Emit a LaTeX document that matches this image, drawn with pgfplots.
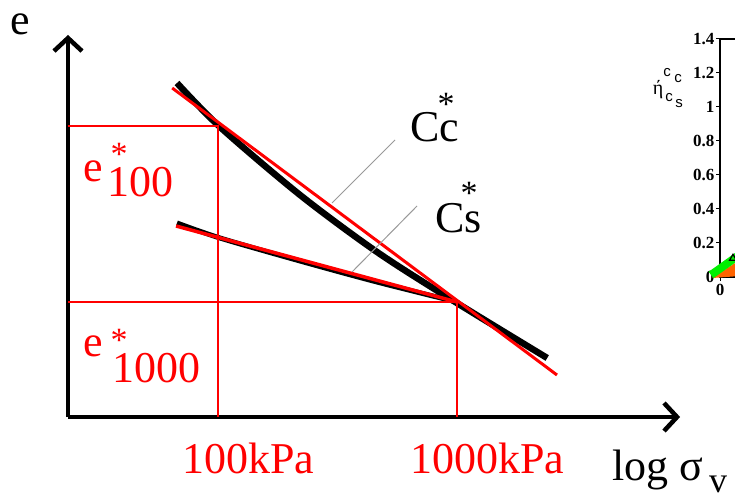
\documentclass[border=0pt]{standalone}
\usepackage{fontspec}
\setmainfont{Liberation Serif}
\newfontfamily\sansf{Liberation Sans}
\usepackage{pgfplots}
\pgfplotsset{compat=1.18}
\usetikzlibrary{arrows.meta}
\definecolor{rd}{RGB}{255,0,0}
\definecolor{gr}{RGB}{0,240,0}
\definecolor{org}{RGB}{255,100,0}
\newcommand{\bigf}{\fontsize{44}{48}\selectfont}
\newcommand{\starf}{\fontsize{34}{36}\selectfont}
\begin{document}
\begin{tikzpicture}[x=1pt,y=1pt]
\useasboundingbox (0,0) rectangle (735,495);
\clip (0,0) rectangle (735,495);
% ---------------- main schematic ----------------
\begin{axis}[
  at={(68pt,78pt)}, anchor=south west,
  x=239pt, y=100pt,
  xmin=1.372, xmax=3.933, ymin=0, ymax=3.82,
  axis lines=left,
  axis line style={line width=4.5pt, black, -{Straight Barb[length=13pt,width=28pt]}},
  xtick={2,3}, xticklabels={100kPa,1000kPa},
  ytick=\empty,
  major tick length=0pt,
  xticklabel style={anchor=base, text=rd, font=\bigf, inner sep=0pt, xshift=30pt, yshift=-56pt},
  clip=false,
]
% black measured curves
\addplot[black, line width=6.5pt, smooth, tension=0.5] coordinates {
 (1.828,3.34) (2.008,2.90) (2.343,2.22) (2.665,1.65) (2.979,1.17) (3.377,0.59)};
\addplot[black, line width=5pt, smooth, tension=0.5] coordinates {
 (1.828,1.94) (2.008,1.79) (2.343,1.56) (2.665,1.35) (3.0,1.15)};
% red construction lines
\addplot[rd, line width=2pt] coordinates {(1.372,2.91) (2.0,2.91) (2.0,0)};
\addplot[rd, line width=2pt] coordinates {(1.372,1.15) (3.0,1.15) (3.0,0)};
\addplot[rd, line width=3pt] coordinates {(1.808,3.29) (3.418,0.42)};
\addplot[rd, line width=3.5pt] coordinates {(1.824,1.91) (3.0,1.15)};
\end{axis}
% annotations (pixel coordinates: x, 495-y)
\node[anchor=base west, inner sep=0pt, font=\bigf] at (10,460) {e};
\node[anchor=base west, inner sep=0pt, font=\bigf, text=rd] at (83,313) {e};
\node[inner sep=0pt, font=\starf, text=rd] at (119,341) {*};
\node[anchor=base west, inner sep=0pt, font=\bigf, text=rd] at (107,298) {100};
\node[anchor=base west, inner sep=0pt, font=\bigf, text=rd] at (83,138) {e};
\node[inner sep=0pt, font=\starf, text=rd] at (119,155) {*};
\node[anchor=base west, inner sep=0pt, font=\bigf, text=rd] at (112,113) {1000};
\node[anchor=base west, inner sep=0pt, font=\bigf] at (410,353) {Cc};
\node[inner sep=0pt, font=\starf] at (446,391) {*};
\node[anchor=base west, inner sep=0pt, font=\bigf] at (435,262) {Cs};
\node[inner sep=0pt, font=\starf] at (469,302) {*};
\draw[gray!80, line width=1pt] (395,355) -- (332,292);
\draw[gray!80, line width=1pt] (417,289) -- (352,223);
\node[anchor=base west, inner sep=0pt, font=\bigf] at (612,15) {log σ};
\node[anchor=base west, inner sep=0pt, font=\fontsize{36}{40}\selectfont] at (709,3) {v};
% ---------------- clipped second chart ----------------
\begin{axis}[
  at={(720pt,218pt)}, anchor=south west,
  x=100pt, y=170pt,
  xmin=0, xmax=4, ymin=0, ymax=1.4,
  axis line style={line width=1.5pt, black},
  ytick={0,0.2,0.4,0.6,0.8,1,1.2,1.4},
  yticklabels={0,0.2,0.4,0.6,0.8,1,1.2,1.4},
  xtick={0,1,2,3,4},
  xticklabels={0,1,2,3,4},
  tick align=outside, major tick length=4pt,
  tick style={line width=1pt, black},
  yticklabel style={font=\bfseries\fontsize{17}{17}\selectfont, inner sep=1.5pt},
  xticklabel style={font=\bfseries\fontsize{17}{17}\selectfont, inner sep=3pt},
  xtick pos=bottom, ytick pos=left,
  clip=false,
]
\addplot[fill=org, draw=none] coordinates {(-0.08,-0.006) (0.3,0.139) (0.3,0.01) (-0.08,-0.006)};
\addplot[gr, line width=8pt] coordinates {(-0.09,0.012) (0.3,0.175)};
\addplot[black, only marks, mark=triangle, mark size=4pt, line width=1.2pt] coordinates {(0.13,0.11)};
\end{axis}
\node[inner sep=0pt, font=\sansf\fontsize{15}{15}\selectfont] at (667,422) {c};
\node[inner sep=0pt, font=\sansf\fontsize{15}{15}\selectfont] at (678,416) {c};
\node[inner sep=0pt, font=\fontsize{20}{20}\selectfont] at (658,405) {ή};
\node[inner sep=0pt, font=\sansf\fontsize{15}{15}\selectfont] at (669,397) {c};
\node[inner sep=0pt, font=\sansf\fontsize{15}{15}\selectfont] at (679,391) {s};
\end{tikzpicture}
\end{document}
